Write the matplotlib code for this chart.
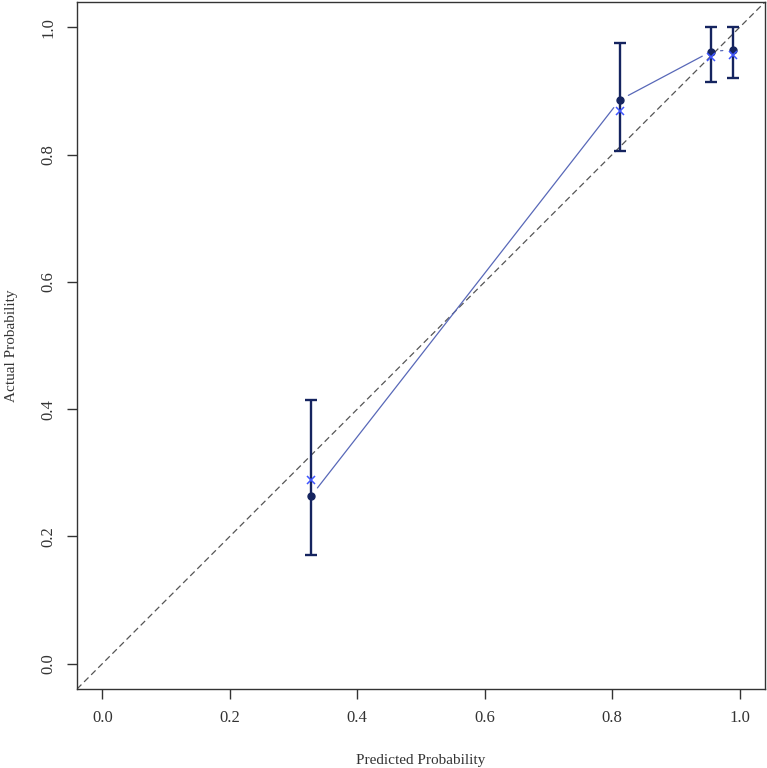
import numpy as np
import matplotlib.pyplot as plt

# calibration data
pred = [0.328, 0.812, 0.955, 0.989]          # predicted probability (bin mean)
actual = [0.264, 0.886, 0.962, 0.965]        # observed probability
actual_lo = [0.170, 0.805, 0.915, 0.921]     # lower CI
actual_hi = [0.415, 0.976, 1.000, 1.000]     # upper CI
corrected = [0.289, 0.869, 0.953, 0.956]     # bias-corrected estimate
ticks = [0.0, 0.2, 0.4, 0.6, 0.8, 1.0]
tick_labels = ['0.0', '0.2', '0.4', '0.6', '0.8', '1.0']

plt.rcParams['font.family'] = ['Liberation Serif', 'DejaVu Serif']

navy = '#15245f'
line_blue = '#5868b8'
cross_blue = '#3f55ff'

fig = plt.figure(figsize=(7.67, 7.68), dpi=100)
ax = fig.add_axes([0.1004, 0.1029, 0.897, 0.8945])

# ideal calibration
ax.axline((0, 0), (1, 1), color='#555555', lw=0.9, ls=(0, (5, 3)), zorder=1)

# connecting line with gaps around the points (R type="b")
for i in range(len(pred) - 1):
    ax.annotate('', xy=(pred[i + 1], actual[i + 1]), xytext=(pred[i], actual[i]),
                arrowprops=dict(arrowstyle='-', color=line_blue, lw=0.9,
                                shrinkA=7, shrinkB=7))

pred_a = np.array(pred)
act_a = np.array(actual)
yerr = [act_a - np.array(actual_lo), np.array(actual_hi) - act_a]
ax.errorbar(pred_a, act_a, yerr=yerr, fmt='none', ecolor=navy, elinewidth=1.7,
            capsize=4, capthick=1.7, zorder=3)
ax.plot(pred, actual, 'o', color=navy, ms=5, zorder=4)
ax.plot(pred, corrected, 'x', color=cross_blue, ms=6, mew=1.1, zorder=4)

ax.set_xlim(-0.04, 1.04)
ax.set_ylim(-0.04, 1.04)
ax.set_xticks(ticks)
ax.set_xticklabels(tick_labels)
ax.set_yticks(ticks)
ax.set_yticklabels(tick_labels, rotation=90, va='center')
ax.tick_params(direction='out', length=7, width=1.0, labelsize=12,
               colors='#333333', pad=8)
for s in ax.spines.values():
    s.set_color('#333333')
    s.set_linewidth(1.0)

ax.set_xlabel('Predicted Probability', fontsize=11, color='#333333', labelpad=20)
ax.set_ylabel('Actual Probability', fontsize=11, color='#333333', labelpad=16)

fig.savefig('out.png', dpi=100)
